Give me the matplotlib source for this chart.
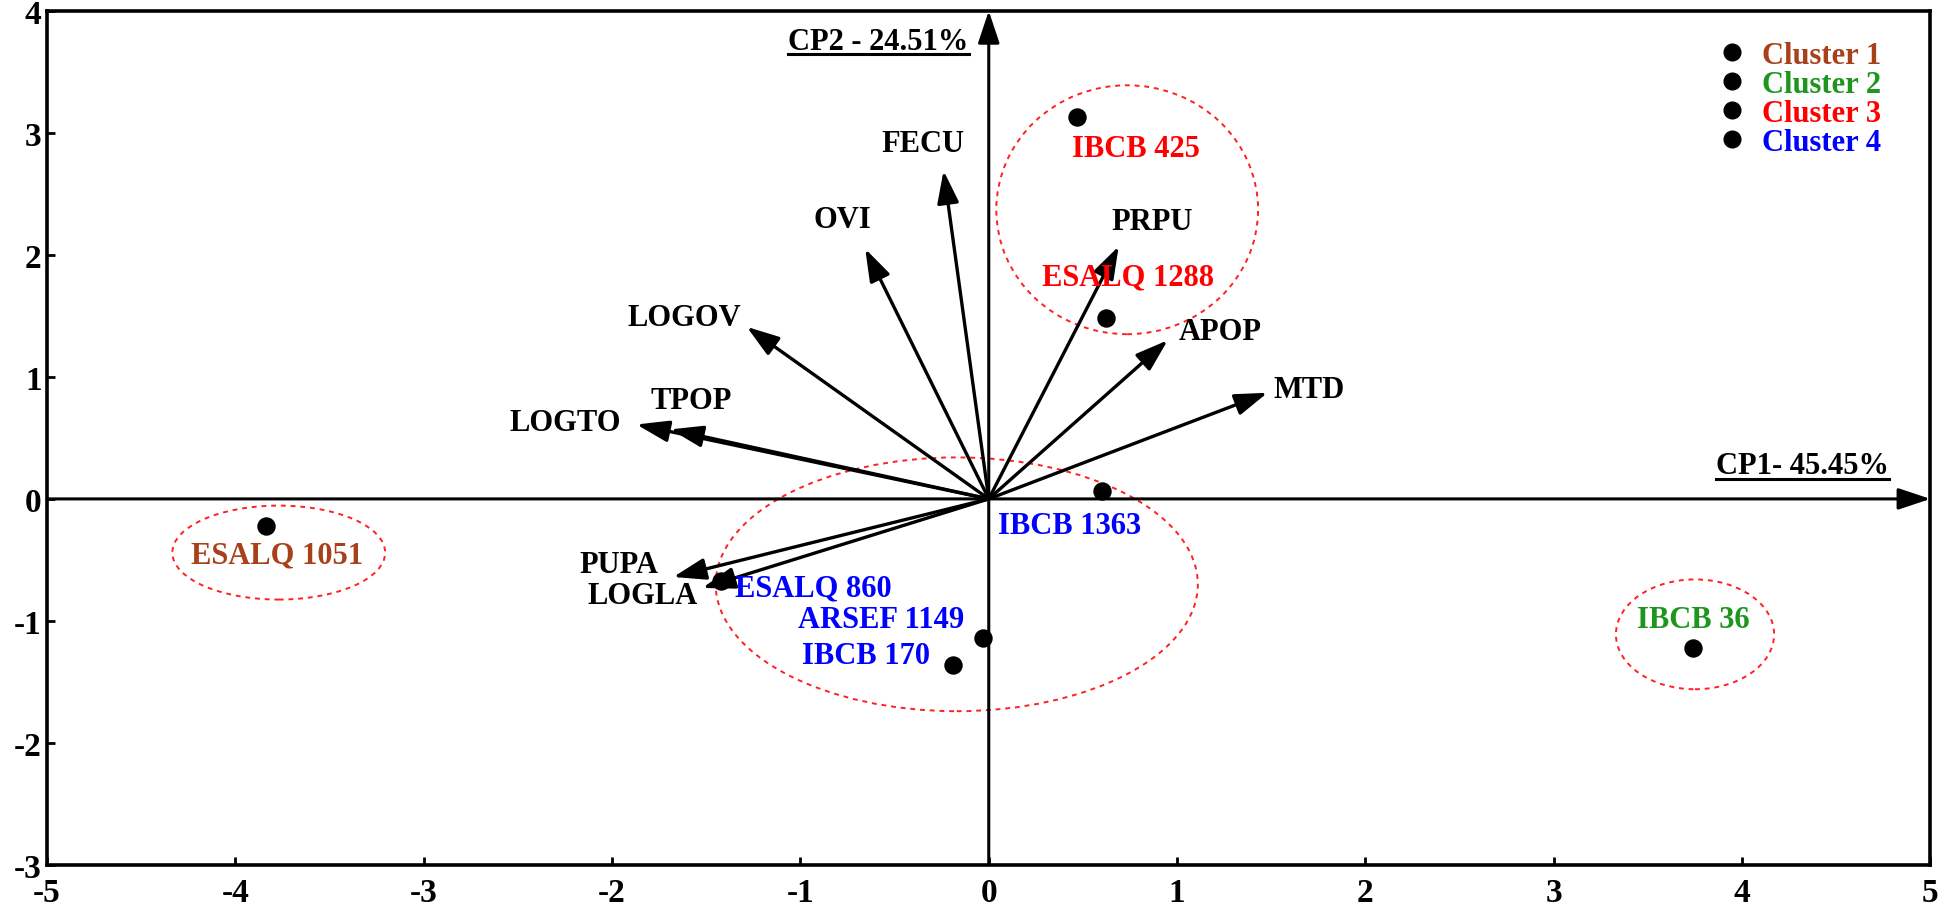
import matplotlib
matplotlib.use("Agg")
import matplotlib.pyplot as plt
from matplotlib.patches import Ellipse
from matplotlib.lines import Line2D

# isolates (PCA scores)
isolates = ["ESALQ 1051", "IBCB 36", "IBCB 425", "ESALQ 1288",
            "IBCB 1363", "ESALQ 860", "ARSEF 1149", "IBCB 170"]
iso_x = [-3.84, 3.74, 0.47, 0.625, 0.60, -1.42, -0.03, -0.19]
iso_y = [-0.225, -1.22, 3.13, 1.48, 0.063, -0.67, -1.14, -1.36]
iso_cluster = [1, 2, 3, 3, 4, 4, 4, 4]

# variables (loadings)
variables = ["FECU", "OVI", "LOGOV", "TPOP", "LOGTO", "PUPA", "LOGLA",
             "PRPU", "APOP", "MTD"]
var_x = [-0.24, -0.656, -1.285, -1.69, -1.87, -1.675, -1.52, 0.69, 0.95, 1.48]
var_y = [2.69, 2.05, 1.41, 0.57, 0.61, -0.64, -0.73, 2.07, 1.30, 0.87]

# cluster ellipses: centre x, centre y, width, height
clusters = ["Cluster 1", "Cluster 2", "Cluster 3", "Cluster 4"]
ell_cx = [-3.77, 3.75, 0.735, -0.17]
ell_cy = [-0.44, -1.11, 2.37, -0.70]
ell_w = [1.13, 0.84, 1.39, 2.56]
ell_h = [0.77, 0.90, 2.04, 2.08]

cp1_label = "CP1- 45.45%"
cp2_label = "CP2 - 24.51%"

# label offsets (style)
iso_off = [(0.06, -0.235), (0.0, 0.23), (0.31, -0.26), (0.115, 0.34),
           (-0.17, -0.285), (0.49, -0.06), (-0.54, 0.15), (-0.46, 0.08)]
var_off = [(-0.11, 0.22), (-0.12, 0.24), (-0.33, 0.08), (0.11, 0.24),
           (-0.38, 0.02), (-0.29, 0.10), (-0.32, -0.06), (0.18, 0.20),
           (0.28, 0.07), (0.22, 0.03)]
colors = {1: "#A8401A", 2: "#1E961E", 3: "#FF0000", 4: "#0000FF"}

plt.rcParams['font.family'] = ['Liberation Serif', 'DejaVu Serif']
plt.rcParams['font.weight'] = 'bold'
plt.rcParams['axes.unicode_minus'] = False
FS = 22

fig = plt.figure(figsize=(19.46, 9.12), dpi=100)
ax = fig.add_axes([0.0242, 0.0505, 0.9678, 0.9365])
ax.set_xlim(-5, 5)
ax.set_ylim(-3, 4)
ax.set_xticks(range(-5, 6))
ax.set_yticks(range(-3, 5))
ax.tick_params(direction='in', length=6, width=2, labelsize=24)
ax.tick_params(axis='x', pad=9)
ax.tick_params(axis='y', pad=4)
for s in ax.spines.values():
    s.set_linewidth(2.6)

# main axes arrows
head = '-|>,head_length=0.9,head_width=0.3'
ax.annotate('', xy=(5, 0), xytext=(-5, 0),
            arrowprops=dict(arrowstyle=head, lw=2.2, color='black',
                            mutation_scale=22, shrinkA=0, shrinkB=0))
ax.annotate('', xy=(0, 4), xytext=(0, -3),
            arrowprops=dict(arrowstyle=head, lw=2.2, color='black',
                            mutation_scale=22, shrinkA=0, shrinkB=0))

# ellipses
for cx, cy, w, h in zip(ell_cx, ell_cy, ell_w, ell_h):
    ax.add_patch(Ellipse((cx, cy), w, h, fill=False, edgecolor='#FF2020',
                         lw=1.4, linestyle=(0, (2.5, 2.5))))

# variable arrows
for name, x, y, (dx, dy) in zip(variables, var_x, var_y, var_off):
    ax.annotate('', xy=(x, y), xytext=(0, 0),
                arrowprops=dict(arrowstyle=head, lw=2.4, color='black',
                                mutation_scale=22, shrinkA=0, shrinkB=0))
    ax.text(x + dx, y + dy, name, fontsize=FS, ha='center', va='center',
            color='black')

# isolate points
ax.scatter(iso_x, iso_y, s=150, color='black', zorder=3)
for name, x, y, c, (dx, dy) in zip(isolates, iso_x, iso_y, iso_cluster, iso_off):
    ax.text(x + dx, y + dy, name, fontsize=FS, ha='center', va='center',
            color=colors[c], zorder=4)

# axis titles with underline
t1 = ax.text(4.78, 0.27, cp1_label, fontsize=FS, ha='right', va='center')
t2 = ax.text(-0.106, 3.75, cp2_label, fontsize=FS, ha='right', va='center')
fig.canvas.draw()
inv = ax.transAxes.inverted()
for t in (t1, t2):
    bb = t.get_window_extent()
    (x0, y0), (x1, y1) = inv.transform([[bb.x0, bb.y0], [bb.x1, bb.y1]])
    ax.add_line(Line2D([x0, x1], [y0 + 0.002, y0 + 0.002],
                       transform=ax.transAxes, color='black', lw=2.2))

# legend
handles = [Line2D([], [], marker='o', color='black', linestyle='none',
                  markersize=12) for _ in clusters]
ax.legend(handles, clusters, loc='upper right', bbox_to_anchor=(0.9855, 0.99),
          frameon=False, fontsize=FS, labelcolor=[colors[i] for i in range(1, 5)],
          labelspacing=0.0, handlelength=1.0, handletextpad=0.5, borderpad=0.2)

fig.savefig("out.png", dpi=100)
